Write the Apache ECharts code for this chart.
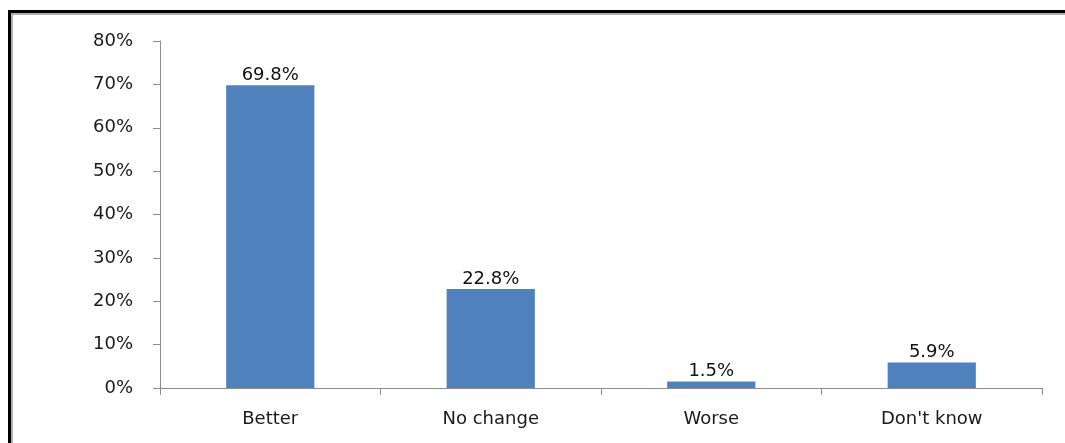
<!DOCTYPE html>
<html>
<head>
<meta charset="utf-8">
<script src="https://cdn.jsdelivr.net/npm/echarts@6/dist/echarts.min.js"></script>
<style>
html,body{margin:0;padding:0;background:#fff;}
#chart{width:1065px;height:443px;}
</style>
</head>
<body>
<div id="chart"></div>
<script>
const categories = ["Better", "No change", "Worse", "Don't know"];
const values = [69.8, 22.8, 1.5, 5.9];
const yTicks = [0, 10, 20, 30, 40, 50, 60, 70, 80];

const chart = echarts.init(document.getElementById('chart'), null, {renderer: 'canvas'});
const font = 'DejaVu Sans';
chart.setOption({
  animation: false,
  backgroundColor: '#fff',
  grid: {left: 160, right: 23, top: 41, bottom: 55, containLabel: false},
  graphic: [
    {type: 'rect', shape: {x: 11, y: 13, width: 2, height: 440}, style: {fill: '#b0b0b0'}},
    {type: 'rect', shape: {x: 11, y: 13, width: 1060, height: 2}, style: {fill: '#b0b0b0'}},
    {type: 'rect', shape: {x: 8, y: 10, width: 3, height: 443}, style: {fill: '#000'}},
    {type: 'rect', shape: {x: 8, y: 10, width: 1060, height: 3}, style: {fill: '#000'}}
  ],
  xAxis: {
    type: 'category',
    data: categories,
    axisLine: {show: true, lineStyle: {color: '#8c8c8c', width: 1}},
    axisTick: {show: true, alignWithLabel: false, length: 7, lineStyle: {color: '#8c8c8c'}},
    axisLabel: {color: '#1a1a1a', fontFamily: font, fontSize: 18, margin: 22},
    splitLine: {show: false}
  },
  yAxis: {
    type: 'value',
    min: yTicks[0],
    max: yTicks[yTicks.length - 1],
    interval: 10,
    axisLine: {show: true, lineStyle: {color: '#8c8c8c', width: 1}},
    axisTick: {show: true, inside: false, length: 7, lineStyle: {color: '#8c8c8c'}},
    axisLabel: {color: '#1a1a1a', fontFamily: font, fontSize: 18, margin: 27, formatter: '{value}%'},
    splitLine: {show: false}
  },
  series: [{
    type: 'bar',
    data: values,
    barWidth: '40%',
    itemStyle: {color: '#4F81BD'},
    label: {
      show: true,
      position: 'top',
      distance: 1,
      color: '#111',
      fontFamily: font,
      fontSize: 18,
      formatter: p => p.value.toFixed(1) + '%'
    }
  }]
});
</script>
</body>
</html>
